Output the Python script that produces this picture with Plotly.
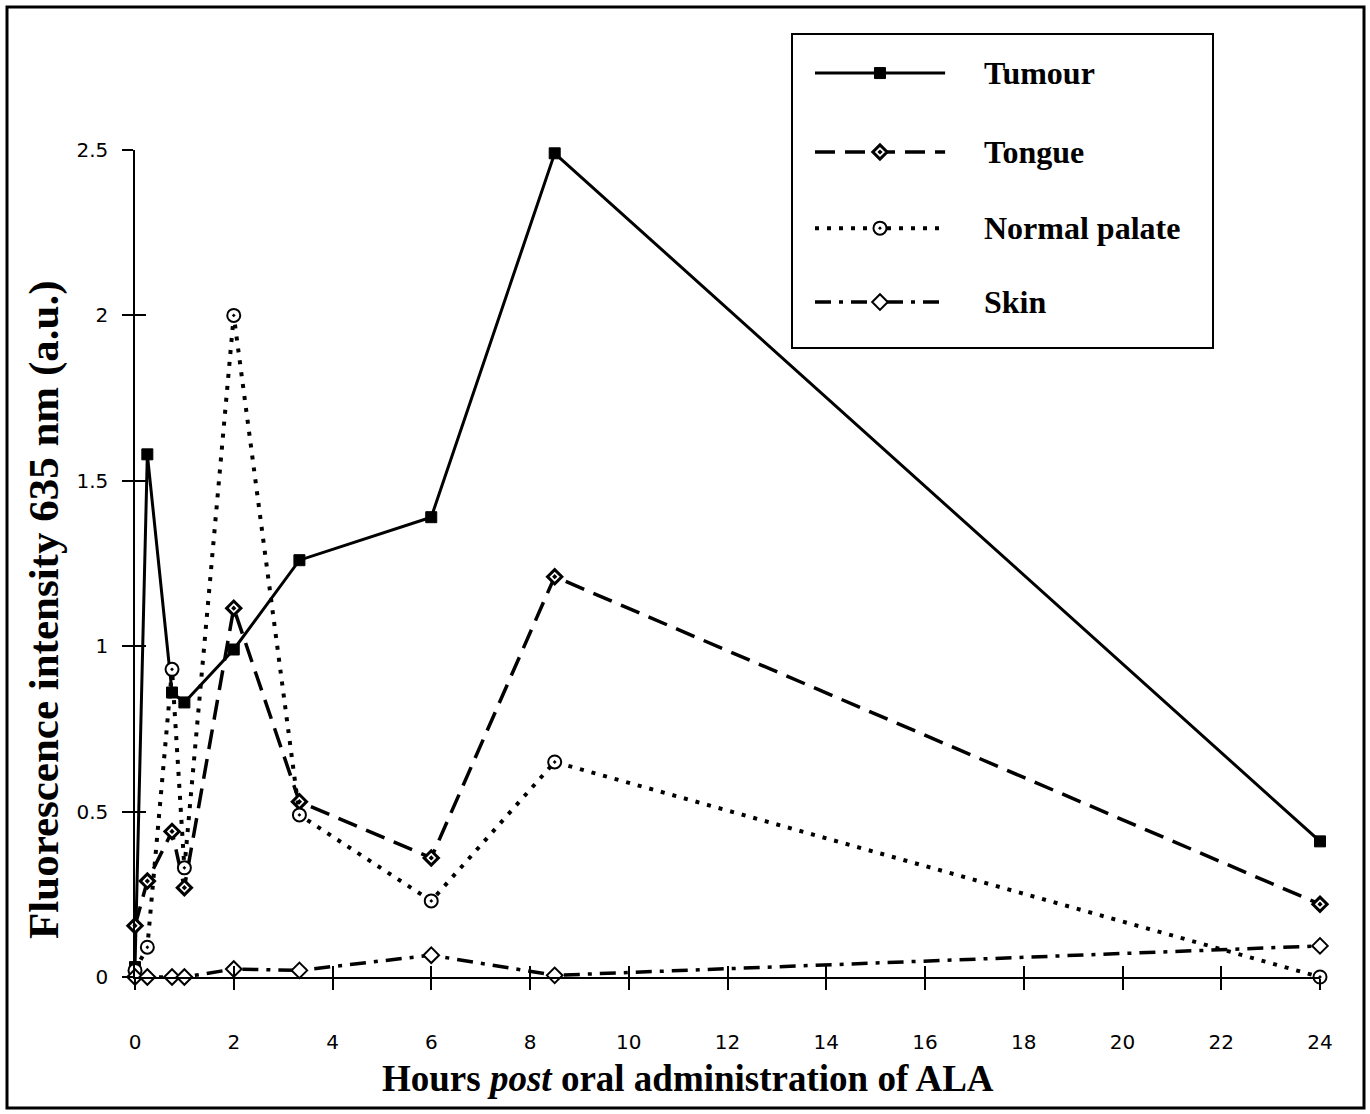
import plotly.graph_objects as go

# ---------------- data ----------------
hours = [0, 0.25, 0.75, 1, 2, 3.33, 6, 8.5, 24]
tumour = [0.03, 1.58, 0.86, 0.83, 0.99, 1.26, 1.39, 2.49, 0.41]
tongue = [0.155, 0.29, 0.44, 0.27, 1.115, 0.53, 0.36, 1.21, 0.22]
palate = [0.02, 0.09, 0.93, 0.33, 2.0, 0.49, 0.23, 0.65, 0.0]
skin = [0.0, 0.0, 0.0, 0.0, 0.024, 0.02, 0.066, 0.005, 0.094]

series_names = ["Tumour", "Tongue", "Normal palate", "Skin"]
series_values = [tumour, tongue, palate, skin]
x_tick_vals = [0, 2, 4, 6, 8, 10, 12, 14, 16, 18, 20, 22, 24]
y_tick_vals = [0, 0.5, 1, 1.5, 2, 2.5]
y_tick_text = ["0", "0.5", "1", "1.5", "2", "2.5"]
x_title = "<b>Hours <i>post</i> oral administration of ALA</b>"
y_title = "<b>Fluorescence intensity 635 nm (a.u.)</b>"

# ---------------- styles ----------------
styles = [
    dict(dash="solid", symbol="square", size=11, color="black", lcol="black", lw=1),
    dict(dash="20px,10px", symbol="diamond-dot", size=11, color="white", lcol="black", lw=3),
    dict(dash="4px,8px", symbol="circle-dot", size=13, color="white", lcol="black", lw=2),
    dict(dash="16px,8px,4px,8px", symbol="diamond", size=12, color="white", lcol="black", lw=2),
]
line_widths = [3, 3.5, 4, 3.5]

W, H = 1370, 1114
ML, MR, MT, MB = 135, 50, 30, 137
PW, PH = W - ML - MR, H - MT - MB
plot_top_px = 150


def px_x(px):
    return (px - ML) / PW


def px_y(py):
    return (H - MB - py) / PH


fig = go.Figure()

for name, vals, st, lw in zip(series_names, series_values, styles, line_widths):
    fig.add_trace(go.Scatter(
        x=hours, y=vals, name=name, mode="lines+markers",
        line=dict(color="black", width=lw, dash=st["dash"]),
        marker=dict(symbol=st["symbol"], size=st["size"], color=st["color"],
                    line=dict(color=st["lcol"], width=st["lw"])),
        cliponaxis=False, showlegend=False,
    ))

# dummy traces so overlay axes (inside tick halves) render
fig.add_trace(go.Scatter(x=[None], y=[None], xaxis="x3", yaxis="y", showlegend=False, hoverinfo="skip"))
fig.add_trace(go.Scatter(x=[None], y=[None], xaxis="x", yaxis="y3", showlegend=False, hoverinfo="skip"))

# ---------------- manual legend on its own axes ----------------
legend_rows = [0.878, 0.625, 0.381, 0.144]
leg_line_x = [0.0525, 0.363]
leg_mark_x = 0.2076
leg_text_x = 0.45
for name, st, lw, r in zip(series_names, styles, line_widths, legend_rows):
    fig.add_trace(go.Scatter(
        x=leg_line_x, y=[r, r], mode="lines", xaxis="x2", yaxis="y2",
        line=dict(color="black", width=lw, dash=st["dash"]), showlegend=False, hoverinfo="skip",
    ))
    fig.add_trace(go.Scatter(
        x=[leg_mark_x], y=[r], mode="markers", xaxis="x2", yaxis="y2",
        marker=dict(symbol=st["symbol"], size=st["size"], color=st["color"],
                    line=dict(color=st["lcol"], width=st["lw"])),
        showlegend=False, hoverinfo="skip", cliponaxis=False,
    ))
    fig.add_annotation(x=leg_text_x, y=r, xref="x2", yref="y2", text="<b>%s</b>" % name,
                       showarrow=False, xanchor="left", yanchor="middle",
                       font=dict(family="Liberation Serif", size=32, color="black"))

tick_font = dict(family="DejaVu Sans", size=20, color="black")
y_dom = [0, px_y(plot_top_px)]

fig.update_layout(
    width=W, height=H,
    margin=dict(l=ML, r=MR, t=MT, b=MB, pad=0),
    paper_bgcolor="white", plot_bgcolor="rgba(0,0,0,0)",
    showlegend=False,
    xaxis=dict(range=[0, 24], domain=[0, 1], anchor="y", tickmode="array", tickvals=x_tick_vals,
               ticks="outside", ticklen=11, tickwidth=1.5, tickcolor="black",
               showline=True, linecolor="black", linewidth=2, showgrid=False, zeroline=False,
               tickfont=tick_font, ticklabelstandoff=35),
    yaxis=dict(range=[0, 2.5], domain=y_dom, anchor="x", tickmode="array", tickvals=y_tick_vals,
               ticktext=y_tick_text, ticks="outside", ticklen=11, tickwidth=1.5, tickcolor="black",
               showline=True, linecolor="black", linewidth=1.5, showgrid=False, zeroline=False,
               tickfont=tick_font, ticklabelstandoff=10),
    xaxis3=dict(range=[0, 24], overlaying="x", anchor="y", side="bottom", tickmode="array",
                tickvals=x_tick_vals, ticks="inside", ticklen=11, tickwidth=1.5, tickcolor="black",
                showticklabels=False, showline=False, showgrid=False, zeroline=False),
    yaxis3=dict(range=[0, 2.5], overlaying="y", anchor="x", side="left", tickmode="array",
                tickvals=y_tick_vals, ticks="inside", ticklen=11, tickwidth=1.5, tickcolor="black",
                showticklabels=False, showline=False, showgrid=False, zeroline=False),
    xaxis2=dict(range=[0, 1], domain=[px_x(793), px_x(1212)], anchor="y2",
                showline=True, mirror=True, linecolor="black", linewidth=2,
                showticklabels=False, ticks="", showgrid=False, zeroline=False, fixedrange=True),
    yaxis2=dict(range=[0, 1], domain=[px_y(347), px_y(35)], anchor="x2",
                showline=True, mirror=True, linecolor="black", linewidth=2,
                showticklabels=False, ticks="", showgrid=False, zeroline=False, fixedrange=True),
)

# axis titles
fig.add_annotation(x=px_x(688), y=px_y(1078), xref="paper", yref="paper", text=x_title,
                   showarrow=False, xanchor="center", yanchor="middle",
                   font=dict(family="Liberation Serif", size=37, color="black"))
fig.add_annotation(x=px_x(44), y=px_y(610), xref="paper", yref="paper", text=y_title,
                   showarrow=False, xanchor="center", yanchor="middle", textangle=-90,
                   font=dict(family="Liberation Serif", size=43, color="black"))

# outer frame of the figure
fig.add_shape(type="rect", xref="paper", yref="paper",
              x0=px_x(7), x1=px_x(1364), y0=px_y(1108), y1=px_y(7),
              line=dict(color="black", width=3), fillcolor="rgba(0,0,0,0)")

fig.write_html("out.html")
